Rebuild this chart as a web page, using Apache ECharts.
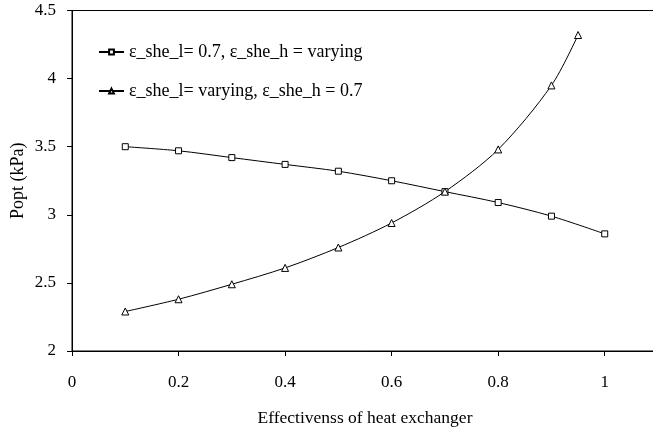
<!DOCTYPE html>
<html><head><meta charset="utf-8">
<script src="https://cdn.jsdelivr.net/npm/echarts@6/dist/echarts.min.js"></script>
<style>html,body{margin:0;padding:0;background:#fff}#c{width:653px;height:430px}</style>
</head><body><div id="c"></div>
<script>
const seriesNames = ['ε_she_l= 0.7, ε_she_h = varying', 'ε_she_l= varying, ε_she_h = 0.7'];
const xSquare = [0.1, 0.2, 0.3, 0.4, 0.5, 0.6, 0.7, 0.8, 0.9, 1.0];
const ySquare = [3.50, 3.47, 3.42, 3.37, 3.32, 3.25, 3.17, 3.09, 2.99, 2.86];
const xTri = [0.1, 0.2, 0.3, 0.4, 0.5, 0.6, 0.7, 0.8, 0.9, 0.95];
const yTri = [2.29, 2.38, 2.49, 2.61, 2.76, 2.94, 3.17, 3.48, 3.95, 4.32];
const xTicks = [0, 0.2, 0.4, 0.6, 0.8, 1];
const yTicks = [2, 2.5, 3, 3.5, 4, 4.5];
const xName = 'Effectivenss of heat exchanger';
const yName = 'Popt (kPa)';

const font = 'Liberation Serif, Times New Roman, serif';
const chart = echarts.init(document.getElementById('c'));
const mk = (xs, ys) => xs.map((x, i) => [x, ys[i]]);
chart.setOption({
  animation: false,
  backgroundColor: '#fff',
  grid: {left: 72, top: 10.5, width: 586, height: 340.5, show: true, borderColor: '#000', borderWidth: 1,
    backgroundColor: 'transparent', containLabel: false, outerBoundsMode: 'none'},
  legend: {
    left: 93, top: 38, orient: 'vertical', itemGap: 21, itemWidth: 25, itemHeight: 6,
    textStyle: {fontFamily: font, fontSize: 18, color: '#000'},
    data: seriesNames
  },
  xAxis: {
    type: 'value', min: 0, max: 1.1, interval: 0.2,
    name: xName, nameLocation: 'middle', nameGap: 58, nameMoveOverlap: false,
    nameTextStyle: {fontFamily: font, fontSize: 17.5, color: '#000'},
    axisLine: {lineStyle: {color: '#000', width: 1}},
    axisTick: {show: true, length: 5, lineStyle: {color: '#000'}},
    splitLine: {show: false},
    axisLabel: {fontFamily: font, fontSize: 17, color: '#000', margin: 23,
      formatter: v => xTicks.some(t => Math.abs(t - v) < 1e-9) ? String(+v.toFixed(1)) : '',
      showMaxLabel: false}
  },
  yAxis: {
    type: 'value', min: 2, max: 4.5, interval: 0.5,
    name: yName, nameLocation: 'middle', nameGap: 45, nameRotate: 90, nameMoveOverlap: false,
    nameTextStyle: {fontFamily: font, fontSize: 18, color: '#000'},
    axisLine: {show: true, lineStyle: {color: '#000', width: 1}},
    axisTick: {show: true, length: 5, lineStyle: {color: '#000'}},
    splitLine: {show: false},
    axisLabel: {fontFamily: font, fontSize: 17, color: '#000', margin: 16,
      formatter: v => String(+v.toFixed(1))}
  },
  series: [
    {name: seriesNames[0], type: 'line', smooth: 0.3, data: mk(xSquare, ySquare),
      symbol: 'rect', symbolSize: 6, showAllSymbol: true,
      itemStyle: {color: '#fff', borderColor: '#000', borderWidth: 1},
      lineStyle: {color: '#000', width: 1}},
    {name: seriesNames[1], type: 'line', smooth: 0.3, data: mk(xTri, yTri),
      symbol: 'triangle', symbolSize: 7, showAllSymbol: true,
      itemStyle: {color: '#fff', borderColor: '#000', borderWidth: 1},
      lineStyle: {color: '#000', width: 1}}
  ]
});
</script></body></html>
